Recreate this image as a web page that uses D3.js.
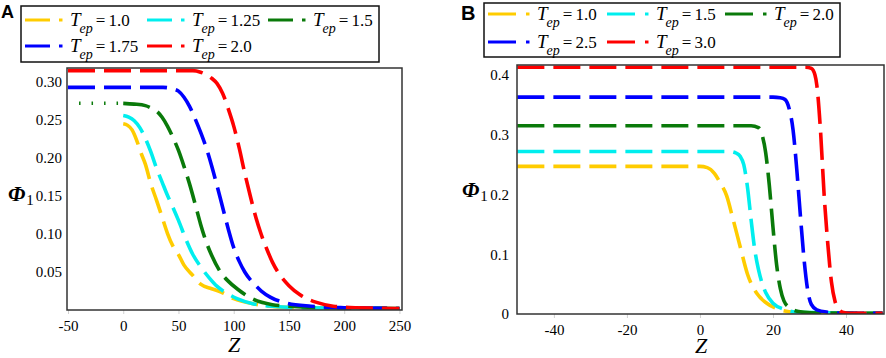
<!DOCTYPE html>
<html><head><meta charset="utf-8">
<script src="https://cdn.jsdelivr.net/npm/d3@7"></script>
<style>
body{margin:0;background:#fff}
svg{display:block}
</style>
</head><body>
<svg id="c" width="886" height="358"></svg>
<script>
// ---------- DATA ----------
const seriesColors = ["#FFCC00", "#00EEEE", "#0A7A0A", "#0000FF", "#FF0000"];

// Panel A  (T_ep values)
const labelsA = ["1.0", "1.25", "1.5", "1.75", "2.0"];
const zA_10  = [0,4,8,12,16,20,25,30,35,40,45,50,55,62,70,80,88,100,118,140,170,250];
const phiA_10 = [.245,.243,.237,.224,.207,.192,.166,.145,.123,.101,.084,.073,.059,.047,.034,.028,.024,.015,.008,.004,.003,.002];
const zA_125 = [0,5,10,15,20,25,30,35,40,45,50,57,63,70,78,85,95,103,118,135,160,250];
const phiA_125 = [.256,.254,.249,.240,.226,.208,.187,.169,.151,.135,.118,.092,.073,.057,.042,.031,.021,.015,.008,.005,.003,.002];
const zA_15  = [0,10,20,25,30,35,40,45,50,55,60,65,70,75,80,88,95,103,118,135,150,180,250];
const phiA_15 = [.272,.271,.269,.266,.262,.254,.242,.227,.210,.189,.166,.140,.113,.090,.072,.050,.038,.028,.014,.007,.005,.003,.002];
const zA_15dots = [-40, 0];
const phiA_15dots = [.272, .272];
const zA_175 = [-50,36,45,50,55,60,65,70,75,80,85,90,95,100,105,110,118,125,133,148,170,200,250];
const phiA_175 = [.293,.293,.291,.288,.280,.268,.252,.234,.214,.190,.163,.135,.107,.082,.064,.050,.035,.025,.017,.009,.005,.003,.002];
const zA_20  = [-50,63,70,80,85,90,95,100,105,110,115,120,125,130,135,140,150,160,175,190,210,250];
const phiA_20 = [.315,.315,.313,.305,.298,.285,.265,.242,.213,.180,.150,.122,.099,.080,.063,.050,.032,.020,.010,.005,.003,.002];

const xTicksA = [-50, 0, 50, 100, 150, 200, 250];
const xTickLabelsA = ["-50", "0", "50", "100", "150", "200", "250"];
const yTicksA = [0.05, 0.10, 0.15, 0.20, 0.25, 0.30];
const yTickLabelsA = ["0.05", "0.10", "0.15", "0.20", "0.25", "0.30"];

// Panel B
const labelsB = ["1.0", "1.5", "2.0", "2.5", "3.0"];
const zB_10  = [-50,0,2,4,5.5,7.3,9,11,13,15.5,18.3,22,26,50];
const phiB_10 = [.247,.247,.245,.235,.220,.198,.160,.113,.067,.035,.018,.007,.003,.001];
const zB_15  = [-50,8,10,11,12,13,14,15,16,17,18,20,23,27,50];
const phiB_15 = [.272,.272,.269,.264,.250,.213,.158,.108,.075,.052,.036,.018,.008,.003,.001];
const zB_20  = [-50,14,16,17,18,19,20,21,22,23,24.7,27,30,50];
const phiB_20 = [.315,.315,.312,.300,.270,.215,.145,.082,.043,.022,.010,.004,.002,.001];
const zB_25  = [-50,20,22,23.3,24.5,25.5,26.5,27.5,28.5,29.5,30.5,32,35,40,50];
const phiB_25 = [.363,.363,.362,.359,.342,.308,.243,.165,.092,.040,.016,.007,.003,.001,.001];
const zB_30  = [-50,29,30.5,31.5,32,33,34,35,36,37,38,39,41,50];
const phiB_30 = [.413,.413,.411,.400,.383,.308,.200,.118,.054,.021,.008,.003,.001,.001];

const xTicksB = [-40, -20, 0, 20, 40];
const xTickLabelsB = ["-40", "-20", "0", "20", "40"];
const yTicksB = [0, 0.1, 0.2, 0.3, 0.4];
const yTickLabelsB = ["0", "0.1", "0.2", "0.3", "0.4"];

// ---------- DRAW ----------
const SERIF = "Liberation Serif";
const SANS = "Liberation Sans";
const svg = d3.select("#c");

function zip(z, p) { return z.map((d, i) => ({z: d, v: p[i]})); }

function panel(cfg) {
  const g = svg.append("g").style("font-family", SERIF);
  const x = d3.scaleLinear().domain(cfg.xDomain).range([cfg.left, cfg.right]);
  const y = d3.scaleLinear().domain(cfg.yDomain).range([cfg.bottom, cfg.top]);
  const clipId = "clip" + cfg.id;
  svg.append("clipPath").attr("id", clipId).append("rect")
    .attr("x", cfg.left).attr("y", cfg.top - 1)
    .attr("width", cfg.right - cfg.left).attr("height", cfg.bottom - cfg.top + 1);

  // x axis
  const xa = g.append("g").attr("transform", `translate(0,${cfg.bottom})`)
    .call(d3.axisBottom(x).tickValues(cfg.xTicks)
      .tickFormat((d, i) => cfg.xTickLabels[i]).tickSize(4).tickPadding(6));
  xa.attr("font-family", null).attr("font-size", null);
  xa.select(".domain").remove();
  xa.selectAll("line").attr("stroke", "#d0d0d0");
  xa.selectAll("text").style("font-size", "15px").style("font-family", SERIF).attr("fill", "#000");

  // y axis
  const ya = g.append("g").attr("transform", `translate(${cfg.left},0)`)
    .call(d3.axisLeft(y).tickValues(cfg.yTicks)
      .tickFormat((d, i) => cfg.yTickLabels[i]).tickSize(0).tickPadding(cfg.yPad));
  ya.attr("font-family", null).attr("font-size", null);
  ya.select(".domain").remove();
  ya.selectAll("text").style("font-size", "15px").style("font-family", SERIF).attr("fill", "#000");

  const line = d3.line().x(d => x(d.z)).y(d => y(d.v)).curve(d3.curveMonotoneX);
  const lg = g.append("g").attr("clip-path", `url(#${clipId})`);
  if (cfg.extra) {
    lg.append("path").datum(cfg.extra.data).attr("d", line)
      .attr("fill", "none").attr("stroke", cfg.extra.color)
      .attr("stroke-width", 3.5).attr("stroke-dasharray", "1.5,11");
  }
  cfg.series.forEach((s, i) => {
    lg.append("path").datum(s).attr("d", line)
      .attr("fill", "none").attr("stroke", seriesColors[i])
      .attr("stroke-width", 3.6).attr("stroke-dasharray", "27,9");
  });

  // frame
  g.append("rect").attr("x", cfg.left).attr("y", cfg.top)
    .attr("width", cfg.right - cfg.left).attr("height", cfg.bottom - cfg.top)
    .attr("fill", "none").attr("stroke", "#333").attr("stroke-width", 1.5);

  // axis labels
  g.append("text").attr("x", cfg.zx).attr("y", cfg.zy).attr("text-anchor", "middle")
    .style("font-family", SERIF).style("font-size", "22px").style("font-style", "italic").text("Z");
  const pl = g.append("text").attr("x", cfg.phx).attr("y", cfg.phy).style("font-family", SERIF);
  pl.append("tspan").style("font-size", "22px").style("font-style", "italic")
    .style("font-weight", "bold").text("Φ");
  pl.append("tspan").style("font-size", "15px").attr("dy", 4).attr("dx", 1).text("1");

  // panel letter
  g.append("text").attr("x", cfg.lx).attr("y", cfg.ly)
    .style("font-family", SANS).style("font-weight", "bold")
    .style("font-size", cfg.lsize + "px").text(cfg.letter);

  // legend
  const L = cfg.legend;
  g.append("rect").attr("x", L.x).attr("y", L.y).attr("width", L.w).attr("height", L.h)
    .attr("fill", "#fff").attr("stroke", "#111").attr("stroke-width", 1.5);
  cfg.labels.forEach((lab, i) => {
    const col = i % 3, row = Math.floor(i / 3);
    const sx = L.cols[col], sy = L.rows[row];
    g.append("line").attr("x1", sx).attr("x2", sx + L.len).attr("y1", sy).attr("y2", sy)
      .attr("stroke", seriesColors[i]).attr("stroke-width", 3);
    g.append("line").attr("x1", sx + L.dot).attr("x2", sx + L.dot + 3.5).attr("y1", sy).attr("y2", sy)
      .attr("stroke", seriesColors[i]).attr("stroke-width", 3);
    const t = g.append("text").attr("x", sx + L.tx).attr("y", sy + 6).style("font-family", SERIF);
    t.append("tspan").style("font-size", "19px").style("font-style", "italic").text("T");
    t.append("tspan").style("font-size", "14px").style("font-style", "italic")
      .attr("dx", -1).attr("dy", 7).text("ep");
    t.append("tspan").style("font-size", "17px").attr("dx", 3).attr("dy", -7).text("=");
    t.append("tspan").style("font-size", "17px").attr("dx", 3).text(lab);
  });
}

panel({
  id: "A", letter: "A", lx: 1, ly: 18, lsize: 18,
  left: 67, right: 402, top: 68, bottom: 310,
  xDomain: [-50.9, 252.3], yDomain: [0, 0.3185],
  xTicks: xTicksA, xTickLabels: xTickLabelsA, yTicks: yTicksA, yTickLabels: yTickLabelsA,
  yPad: 5,
  series: [zip(zA_10, phiA_10), zip(zA_125, phiA_125), zip(zA_15, phiA_15),
           zip(zA_175, phiA_175), zip(zA_20, phiA_20)],
  extra: {data: zip(zA_15dots, phiA_15dots), color: seriesColors[2]},
  labels: labelsA,
  zx: 234, zy: 352, phx: 8, phy: 201,
  legend: {x: 21, y: 6, w: 358, h: 56, cols: [25, 147, 268], rows: [20, 46], len: 25, dot: 34, tx: 45}
});

panel({
  id: "B", letter: "B", lx: 461, ly: 20, lsize: 20,
  left: 517, right: 884, top: 65, bottom: 314,
  xDomain: [-50.1, 50.4], yDomain: [0, 0.4167],
  xTicks: xTicksB, xTickLabels: xTickLabelsB, yTicks: yTicksB, yTickLabels: yTickLabelsB,
  yPad: 8,
  series: [zip(zB_10, phiB_10), zip(zB_15, phiB_15), zip(zB_20, phiB_20),
           zip(zB_25, phiB_25), zip(zB_30, phiB_30)],
  labels: labelsB,
  zx: 701, zy: 353, phx: 462, phy: 197,
  legend: {x: 484, y: 3, w: 356, h: 54, cols: [488, 607, 725], rows: [14, 42], len: 28, dot: 38, tx: 49}
});
</script>
</body></html>
